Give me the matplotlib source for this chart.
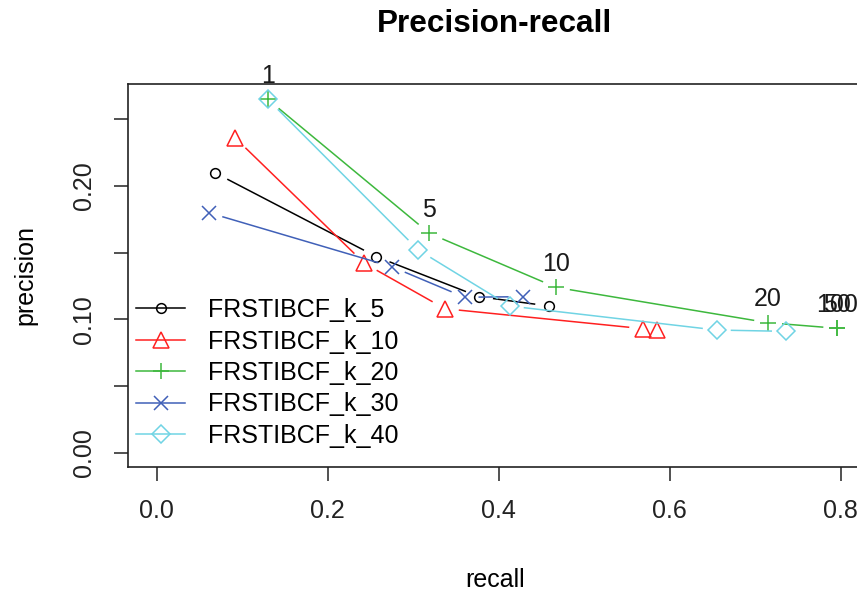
import numpy as np
import matplotlib
matplotlib.use('Agg')
import matplotlib.pyplot as plt
from matplotlib.lines import Line2D

plt.rcParams['font.family'] = ['Liberation Sans', 'DejaVu Sans']

# Data (recall, precision per series)
names = ['FRSTIBCF_k_5', 'FRSTIBCF_k_10', 'FRSTIBCF_k_20', 'FRSTIBCF_k_30', 'FRSTIBCF_k_40']

recall_k5 = [0.068, 0.257, 0.377, 0.459]
prec_k5 = [0.210, 0.147, 0.117, 0.110]

recall_k10 = [0.092, 0.243, 0.337, 0.569, 0.585]
prec_k10 = [0.236, 0.142, 0.108, 0.093, 0.092]

recall_k20 = [0.130, 0.319, 0.467, 0.715, 0.796, 0.796]
prec_k20 = [0.265, 0.1645, 0.124, 0.0975, 0.0933, 0.0933]

recall_k30 = [0.061, 0.275, 0.360, 0.428]
prec_k30 = [0.180, 0.1395, 0.1166, 0.117]

recall_k40 = [0.130, 0.306, 0.413, 0.655, 0.736]
prec_k40 = [0.265, 0.152, 0.110, 0.092, 0.091]

# list-size labels, written above the k_20 points
n_labels = ['1', '5', '10', '20', '50', '100']

colors = ['black', '#FF2020', '#3DB83D', '#4060B8', '#70D4E4']
markers = ['o', '^', '+', 'x', 'D']
msizes = [7, 11, 12, 10, 9]

series = [(recall_k5, prec_k5), (recall_k10, prec_k10), (recall_k20, prec_k20),
          (recall_k30, prec_k30), (recall_k40, prec_k40)]

W, H = 857, 595
fig = plt.figure(figsize=(W / 100, H / 100), dpi=100)
left, right, top, bottom = 128.3, 861.5, 84.3, 466.7
ax = fig.add_axes([left / W, 1 - bottom / H, (right - left) / W, (bottom - top) / H])
ax.set_xlim(-0.0332, 0.8243)
ax.set_ylim(-0.0105, 0.2763)


def gap_line(xs, ys, color, gap=14):
    # R type="b": segments stop short of the points
    pts = ax.transData.transform(np.column_stack([xs, ys]))
    inv = ax.transData.inverted()
    for p0, p1 in zip(pts[:-1], pts[1:]):
        d = p1 - p0
        L = np.hypot(*d)
        if L <= 2 * gap:
            continue
        u = d / L
        a = inv.transform(np.array([p0 + u * gap, p1 - u * gap]))
        ax.plot(a[:, 0], a[:, 1], color=color, lw=1.1, solid_capstyle='butt')


handles = []
for (xs, ys), c, m, ms, name in zip(series, colors, markers, msizes, names):
    gap_line(xs, ys, c)
    ax.plot(xs, ys, ls='none', marker=m, ms=ms, mfc='none', mec=c, mew=1.1)
    handles.append(Line2D([], [], color=c, lw=1.1, marker=m, ms=ms, mfc='none', mec=c, mew=1.1, label=name))

for lab, x, y in zip(n_labels, recall_k20, prec_k20):
    ax.annotate(lab, (x, y), xytext=(0, 17), textcoords='offset points',
                ha='center', va='center', fontsize=18, color='#1a1a1a')

ax.set_xticks([0.0, 0.2, 0.4, 0.6, 0.8])
ax.set_xticklabels(['0.0', '0.2', '0.4', '0.6', '0.8'])
ax.set_yticks([0.0, 0.05, 0.10, 0.15, 0.20, 0.25])
ax.set_yticklabels(['0.00', '', '0.10', '', '0.20', ''], rotation=90, va='center')
ax.tick_params(direction='out', length=10, width=1.1, labelsize=18, pad=13, colors='#222222')
for s in ax.spines.values():
    s.set_linewidth(1.2)
    s.set_color('#222222')

ax.text(0.5, 1.136, 'Precision-recall', transform=ax.transAxes, ha='center', va='baseline',
        fontsize=22.7, fontweight='bold')
ax.text(0.5, -0.3138, 'recall', transform=ax.transAxes, ha='center', va='baseline', fontsize=18)
fig.text(25 / W, 1 - 275 / H, 'precision', rotation=90, ha='center', va='center', fontsize=18)

ax.legend(handles=handles, loc='upper left', bbox_to_anchor=(136 / W, 1 - 298 / H),
          bbox_transform=fig.transFigure, frameon=False, fontsize=18, borderpad=0,
          borderaxespad=0, handlelength=1.96, handletextpad=0.9, labelspacing=0.3,
          numpoints=1)

fig.savefig('out.png', dpi=100, facecolor='white')
